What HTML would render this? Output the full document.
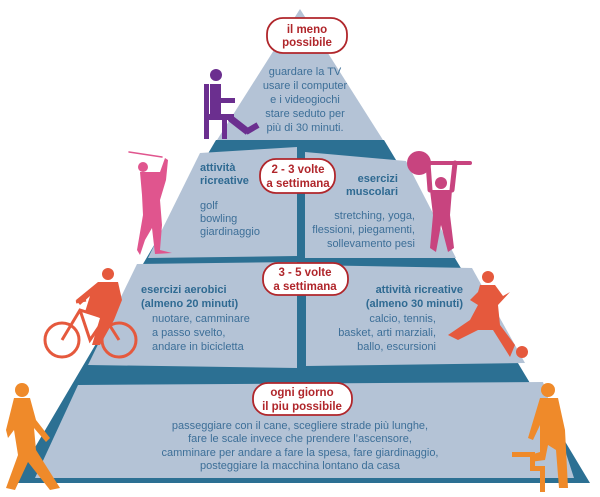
<!DOCTYPE html>
<html><head><meta charset="utf-8"><style>
html,body{margin:0;padding:0;background:#fff;}
svg{display:block;}
text{font-family:"Liberation Sans",Arial,sans-serif;font-size:11px;fill:#3d6f98;}
.b{font-weight:bold;fill:#2f6a92;}
.r{font-weight:bold;fill:#b0262b;font-size:11.5px;}
</style></head><body>
<svg width="600" height="497" viewBox="0 0 600 497" xmlns="http://www.w3.org/2000/svg">
<polygon points="216,140 384,140 590,483 14,483" fill="#2c7093"/>
<polygon points="300,9 383,140 217,140" fill="#b4c3d6"/>
<polygon points="200,153 297,147 297,256 148,258" fill="#b4c3d6"/>
<polygon points="305,152 406,161 456,258 305,258" fill="#b4c3d6"/>
<polygon points="137,264 297,262 297,368 88,365" fill="#b4c3d6"/>
<polygon points="306,265 472,268 525,363 306,366" fill="#b4c3d6"/>
<polygon points="78,385 543,382 574,478 35,478" fill="#b4c3d6"/>

<g fill="#fff" stroke="#b0262b" stroke-width="1.8">
<rect x="267" y="18" width="80" height="35" rx="16"/>
<rect x="260" y="159" width="75" height="34" rx="16"/>
<rect x="263" y="263" width="85" height="32" rx="15"/>
<rect x="253" y="383" width="99" height="32" rx="15"/>
</g>
<g text-anchor="middle">
<text class="r" x="307" y="33">il meno</text><text class="r" x="307" y="46">possibile</text>
<text class="r" x="298" y="173">2 - 3 volte</text><text class="r" x="298" y="187">a settimana</text>
<text class="r" x="305" y="276">3 - 5 volte</text><text class="r" x="305" y="290">a settimana</text>
<text class="r" x="302" y="396">ogni giorno</text><text class="r" x="302" y="410">il piu possibile</text>
<text x="305" y="75">guardare la TV</text><text x="305" y="89">usare il computer</text>
<text x="305" y="103">e i videogiochi</text><text x="305" y="117">stare seduto per</text>
<text x="305" y="131">più di 30 minuti.</text>
<text x="300" y="429">passeggiare con il cane, scegliere strade più lunghe,</text>
<text x="300" y="442">fare le scale invece che prendere l’ascensore,</text>
<text x="300" y="456">camminare per andare a fare la spesa, fare giardinaggio,</text>
<text x="300" y="469">posteggiare la macchina lontano da casa</text>
</g>
<text class="b" x="200" y="171">attività</text><text class="b" x="200" y="184">ricreative</text>
<text x="200" y="209">golf</text><text x="200" y="222">bowling</text><text x="200" y="235">giardinaggio</text>
<g text-anchor="end">
<text class="b" x="398" y="182">esercizi</text><text class="b" x="398" y="195">muscolari</text>
<text x="415" y="219">stretching, yoga,</text><text x="415" y="233">flessioni, piegamenti,</text>
<text x="415" y="247">sollevamento pesi</text>
<text class="b" x="463" y="293">attività ricreative</text><text class="b" x="463" y="307">(almeno 30 minuti)</text>
<text x="436" y="322">calcio, tennis,</text><text x="436" y="336">basket, arti marziali,</text>
<text x="436" y="350">ballo, escursioni</text>
</g>
<text class="b" x="141" y="293">esercizi aerobici</text><text class="b" x="141" y="307">(almeno 20 minuti)</text>
<text x="152" y="322">nuotare, camminare</text><text x="152" y="336">a passo svelto,</text>
<text x="152" y="350">andare in bicicletta</text>

<!-- sitting man purple -->
<g fill="#6b2f8f" stroke="#6b2f8f">
<circle cx="216" cy="75" r="6" stroke="none"/>
<rect x="204" y="84" width="5" height="55" stroke="none"/>
<rect x="210" y="84" width="11" height="36" stroke="none"/>
<rect x="204" y="114" width="30" height="6" stroke="none"/>
<rect x="221" y="98" width="14" height="5" stroke="none"/>
<rect x="222" y="120" width="5" height="19" stroke="none"/>
<line x1="230" y1="118" x2="248" y2="132" stroke-width="7"/>
<line x1="246" y1="132" x2="258" y2="125" stroke-width="6"/>
</g>
<!-- golfer pink -->
<g fill="#e0558e" stroke="#e0558e" stroke-linecap="round">
<line x1="129" y1="152" x2="162" y2="157" stroke-width="1.5"/>
<circle cx="143" cy="167" r="5" stroke="none"/>
<path d="M140 172 L160 172 L165 158 L168 160 L166 180 L160 200 L162 225 L160 250 L172 253 L155 254 L152 228 L145 240 L140 255 L137 250 L143 215 L142 195 Z" stroke="none"/>
</g>
<!-- weightlifter -->
<g fill="#c8447f" stroke="#c8447f" stroke-linecap="round">
<line x1="410" y1="163" x2="470" y2="163" stroke-width="4"/>
<circle cx="419" cy="163" r="12" stroke="none"/>
<line x1="428" y1="163" x2="430" y2="190" stroke-width="5"/>
<line x1="455" y1="163" x2="452" y2="190" stroke-width="5"/>
<circle cx="441" cy="183" r="6" stroke="none"/>
<path d="M430 190 L452 190 L450 215 L454 248 L448 252 L441 225 L436 252 L430 248 L433 215 Z" stroke="none"/>
</g>
<!-- cyclist -->
<g fill="none" stroke="#e5593d" stroke-width="3">
<circle cx="62" cy="340" r="17"/><circle cx="119" cy="340" r="17"/>
<path d="M62 340 L80 310 L105 318 L119 340 M80 310 L90 340 L105 318 M76 302 L86 300"/>
</g>
<g fill="#e5593d">
<circle cx="108" cy="274" r="6"/>
<path d="M98 282 L118 282 L122 300 L114 320 L100 345 L92 345 L100 318 L85 312 L90 296 L80 305 L76 300 Z"/>
</g>
<!-- soccer -->
<g fill="#e5593d" stroke="#e5593d" stroke-linecap="round">
<circle cx="488" cy="277" r="6" stroke="none"/>
<path d="M480 285 L495 285 L503 296 L510 292 L498 305 L500 325 L515 345 L510 357 L493 330 L478 330 L458 340 L448 335 L470 320 L478 305 L470 300 L478 292 Z" stroke="none"/>
<circle cx="522" cy="352" r="6" stroke="none"/>
</g>
<!-- walker -->
<g fill="#ef8a2a">
<circle cx="22" cy="390" r="7"/>
<path d="M14 398 L30 398 L36 420 L50 438 L46 442 L34 428 L36 450 L60 488 L50 490 L28 462 L15 490 L6 488 L18 455 L14 430 L8 438 L6 430 Z"/>
</g>
<!-- stair climber -->
<g fill="#ef8a2a">
<circle cx="548" cy="390" r="7"/>
<path d="M540 398 L558 398 L565 430 L568 488 L559 488 L556 450 L548 445 L545 460 L530 462 L530 455 L540 452 L540 425 L533 440 L528 438 Z"/>
<path d="M512 452 L535 452 L535 466 L545 466 L545 492 L540 492 L540 471 L530 471 L530 457 L512 457 Z"/>
</g>
</svg>
</body></html>
